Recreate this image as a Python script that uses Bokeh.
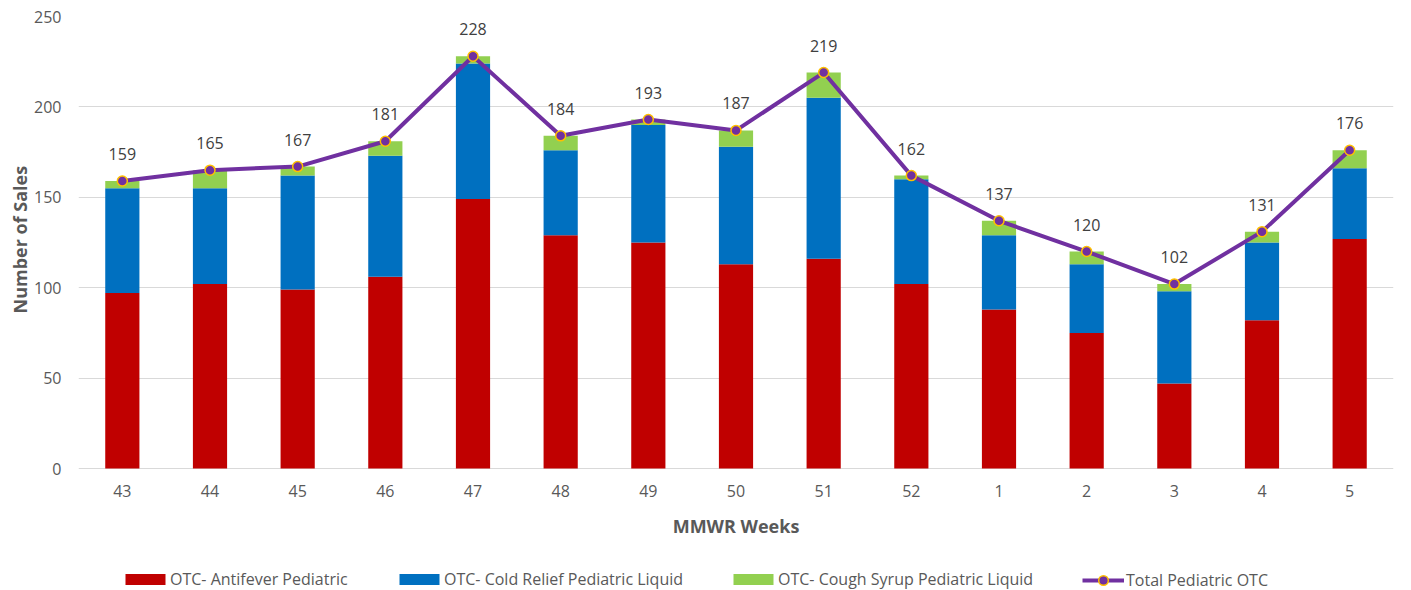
from bokeh.plotting import figure
from bokeh.models import (FactorRange, Range1d, FixedTicker, Legend, LegendItem,
                          ColumnDataSource, LabelSet, Title)
from bokeh.embed import file_html
from bokeh.resources import INLINE
from bokeh.core.properties import value

weeks = ["43", "44", "45", "46", "47", "48", "49", "50", "51", "52", "1", "2", "3", "4", "5"]
antifever = [97, 102, 99, 106, 149, 129, 125, 113, 116, 102, 88, 75, 47, 82, 127]
cold_relief = [58, 53, 63, 67, 75, 47, 65, 65, 89, 58, 41, 38, 51, 43, 39]
cough_syrup = [4, 10, 5, 8, 4, 8, 3, 9, 14, 2, 8, 7, 4, 6, 10]
total = [159, 165, 167, 181, 228, 184, 193, 187, 219, 162, 137, 120, 102, 131, 176]
y_ticks = [0, 50, 100, 150, 200, 250]

series_names = ["OTC- Antifever Pediatric", "OTC- Cold Relief Pediatric Liquid",
                "OTC- Cough Syrup Pediatric Liquid", "Total Pediatric OTC"]
colors = ["#C00000", "#0070C0", "#92D050"]
FONT = "Open Sans"
TXT = "#595959"

W, H = 1411, 590
LEFT, RIGHT, TOP = 78, 18, 16
ZERO_PX = 468          # pixel row of value 0
Y_MAX = 250
px_per_unit = (ZERO_PX - TOP) / Y_MAX
y_min = -(H - ZERO_PX) / px_per_unit   # frame extends down to hold labels & legend

src = ColumnDataSource(dict(week=weeks, antifever=antifever, cold=cold_relief,
                            cough=cough_syrup, total=total,
                            total_str=[str(t) for t in total],
                            zero=[0] * len(weeks)))

p = figure(x_range=FactorRange(*weeks), y_range=Range1d(y_min, Y_MAX),
           width=W, height=H, output_backend="svg", toolbar_location=None,
           min_border_left=LEFT, min_border_right=RIGHT, min_border_top=TOP,
           min_border_bottom=0)
p.outline_line_color = None

bars = p.vbar_stack(["antifever", "cold", "cough"], x="week", width=0.39,
                    source=src, color=colors, line_color=None)
ln = p.line("week", "total", source=src, line_color="#7030A0", line_width=4)
sc = p.scatter("week", "total", source=src, size=10, fill_color="#7030A0",
               line_color="#FFC000", line_width=1.5)

labels = LabelSet(x="week", y="total", text="total_str", source=src,
                  text_align="center", text_baseline="middle", y_offset=27,
                  text_font=value(FONT), text_font_size="16px", text_color="#404040")
p.add_layout(labels)

# category labels of the x axis
xlabels = LabelSet(x="week", y="zero", text="week", source=src,
                   text_align="center", text_baseline="middle", y_offset=-22,
                   text_font=value(FONT), text_font_size="16px", text_color=TXT)
p.add_layout(xlabels)

# x axis title, centred on the middle category
title_src = ColumnDataSource(dict(x=[weeks[len(weeks) // 2]], y=[0], t=["MMWR Weeks"]))
xtitle = LabelSet(x="x", y="y", text="t", source=title_src, text_align="center",
                  text_baseline="middle", y_offset=-57, text_font=value(FONT),
                  text_font_size="18px", text_font_style="bold", text_color=TXT)
p.add_layout(xtitle)

p.xaxis.visible = False
p.xgrid.grid_line_color = None
p.ygrid.grid_line_color = "#D9D9D9"
p.ygrid.ticker = FixedTicker(ticks=y_ticks)

ax = p.yaxis
ax.ticker = FixedTicker(ticks=y_ticks)
ax.axis_line_color = None
ax.major_tick_line_color = None
ax.minor_tick_line_color = None
ax.major_tick_out = 0
ax.major_tick_in = 0
ax.minor_tick_out = 0
ax.major_label_text_font = FONT
ax.major_label_text_font_size = "16px"
ax.major_label_text_color = TXT
ax.major_label_standoff = 17

# y axis title, centred on the 0..250 span of the value axis
ytitle = Title(text="Number of Sales", align="left", offset=H - 313,
               text_font=FONT, text_font_size="18px", text_font_style="bold",
               text_color=TXT, standoff=0)
p.add_layout(ytitle, "left")

def make_legend(item, x, y, gw, gh, standoff):
    lg = Legend(items=[item], location=(x, y), orientation="horizontal",
                glyph_width=gw, glyph_height=gh, label_standoff=standoff,
                label_height=20, padding=0, margin=0, border_line_color=None,
                background_fill_alpha=0, label_text_font=FONT,
                label_text_font_size="16px", label_text_color=TXT)
    p.add_layout(lg)

make_legend(LegendItem(label=series_names[0], renderers=[bars[0]]), 42, 0, 50, 14, 0)
make_legend(LegendItem(label=series_names[1], renderers=[bars[1]]), 316, 0, 50, 14, 0)
make_legend(LegendItem(label=series_names[2], renderers=[bars[2]]), 650, 0, 50, 14, 0)
make_legend(LegendItem(label=series_names[3], renderers=[ln, sc]), 1004, -2, 42, 24, 2)

open("out.html", "w").write(file_html(p, INLINE))
